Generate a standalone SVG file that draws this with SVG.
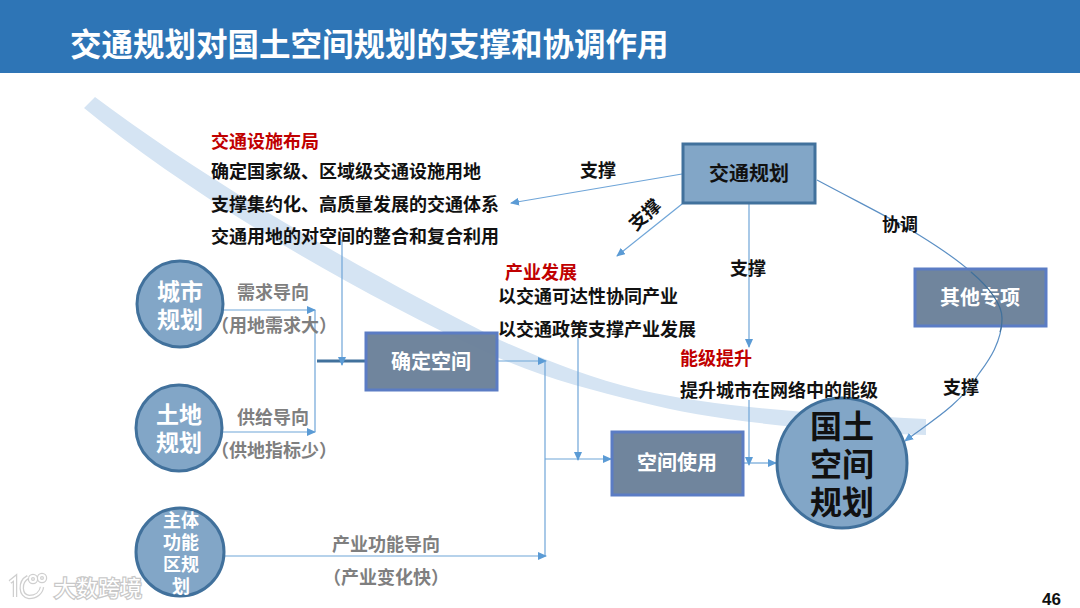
<svg xmlns="http://www.w3.org/2000/svg" width="1080" height="608" viewBox="0 0 1080 608">
<defs>
<marker id="arr" markerWidth="9" markerHeight="8" refX="8" refY="4" orient="auto" markerUnits="userSpaceOnUse"><path d="M0 0L9 4L0 8Z" fill="#5b9bd5"/></marker>
</defs>
<style>
text{font-family:"Noto Sans CJK SC","Noto Sans",sans-serif;font-weight:700}
.k{font-size:18px;fill:#111}
.r{font-size:18px;fill:#c00000}
.g{font-size:18px;fill:#7f7f7f}
.w{fill:#fff;text-anchor:middle}
.c{fill:none;stroke:#6fa5d8;stroke-width:1.2}
.a{marker-end:url(#arr)}
.ci{fill:#82a6c7;stroke:#41719c;stroke-width:3}
.b1{fill:#82a6c7;stroke:#41719c;stroke-width:3}
.b2{fill:#6a8099;fill-opacity:.96;stroke:#5b7cc4;stroke-width:3}
</style>
<rect width="1080" height="608" fill="#fff"/>
<rect id="header" width="1080" height="73" fill="#2e75b6"/>
<text x="70" y="56" font-size="31.5" fill="#fff">交通规划对国土空间规划的支撑和协调作用</text>
<path id="band" d="M95 97C205 180 360 270 500 340C550 362 590 378 640 390C720 408 820 414 926 419L926 435C800 430 710 420 640 402C590 390 540 377 490 354C350 290 190 195 84 108Z" fill="#d5e4f3"/>
<g id="connectors">
<path class="c a" d="M218 310H315"/>
<path class="c a" d="M212 432H315"/>
<path class="c" d="M315 310V432"/>
<path d="M317 361H365" fill="none" stroke="#41719c" stroke-width="3"/>
<path class="c a" d="M342 240V365"/>
<path class="c a" d="M498 361H546"/>
<path class="c" d="M545 361V556"/>
<path class="c a" d="M225 556H546"/>
<path class="c a" d="M545 459H611"/>
<path class="c a" d="M578 338V460"/>
<path class="c a" d="M744 463H776"/>
<path class="c a" d="M749 400V465"/>
<path class="c a" d="M749 204V347"/>
<path class="c a" d="M682 174L511 203"/>
<path class="c a" d="M682 204L617 256"/>
<path class="c a" d="M817 180C860 203 900 223 919 235C940 248 960 262 971 272C990 288 1002 305 1002 318C1002 345 985 365 978 375C960 405 930 422 905 441" style="stroke:#5b8fc4"/>
</g>
<g id="n-jtgh"><rect class="b1" x="683" y="144" width="132" height="59"/><text x="749" y="181" font-size="20" text-anchor="middle" fill="#111">交通规划</text></g>
<g id="n-qtzx"><rect class="b2" x="915" y="269" width="131" height="57"/><text class="w" x="980" y="305" font-size="20">其他专项</text><path d="M971 272C990 288 1002 305 1002 318C1002 322 1001.500 328 1000 332" fill="none" stroke="#41719c" stroke-width="1.200"/></g>
<g id="n-qdkj"><rect class="b2" x="366" y="333" width="131" height="57"/><text class="w" x="431" y="369" font-size="20">确定空间</text></g>
<g id="n-kjsy"><rect class="b2" x="612" y="432" width="131" height="63"/><text class="w" x="677" y="470" font-size="20">空间使用</text></g>
<g id="n-csgh"><circle class="ci" cx="180" cy="304" r="43"/><text class="w" x="180" y="300" font-size="23">城市</text><text class="w" x="180" y="328" font-size="23">规划</text></g>
<g id="n-tdgh"><circle class="ci" cx="179" cy="428" r="43"/><text class="w" x="179" y="423" font-size="23">土地</text><text class="w" x="179" y="451" font-size="23">规划</text></g>
<g id="n-ztgn"><circle class="ci" cx="180" cy="552" r="44"/><text class="w" x="181" y="527" font-size="18">主体</text><text class="w" x="181" y="549" font-size="18">功能</text><text class="w" x="181" y="571" font-size="18">区规</text><text class="w" x="181" y="593" font-size="18">划</text></g>
<g id="n-gtkj"><circle class="ci" cx="842" cy="463" r="65"/><text x="842" y="438" font-size="32" text-anchor="middle" fill="#111">国土</text><text x="842" y="476" font-size="32" text-anchor="middle" fill="#111">空间</text><text x="842" y="514" font-size="32" text-anchor="middle" fill="#111">规划</text></g>
<g id="labels">
<text class="r" x="211" y="148">交通设施布局</text>
<text class="k" x="211" y="178">确定国家级、区域级交通设施用地</text>
<text class="k" x="211" y="211">支撑集约化、高质量发展的交通体系</text>
<text class="k" x="211" y="243">交通用地的对空间的整合和复合利用</text>
<text class="r" x="505" y="279">产业发展</text>
<text class="k" x="498" y="303">以交通可达性协同产业</text>
<text class="k" x="498" y="336">以交通政策支撑产业发展</text>
<text class="r" x="680" y="365">能级提升</text>
<text class="k" x="680" y="397">提升城市在网络中的能级</text>
<text class="k" x="580" y="177">支撑</text>
<text class="k" transform="translate(645 215) rotate(-42)" text-anchor="middle" y="6">支撑</text>
<text class="k" x="730" y="275">支撑</text>
<text class="k" x="882" y="231">协调</text>
<text class="k" x="943" y="394">支撑</text>
<text class="g" x="237" y="299">需求导向</text>
<text class="g" x="211" y="332">（用地需求大）</text>
<text class="g" x="237" y="424">供给导向</text>
<text class="g" x="211" y="457">（供地指标少）</text>
<text class="g" x="332" y="551">产业功能导向</text>
<text class="g" x="323" y="584">（产业变化快）</text>
<text x="1042" y="605" font-size="17" fill="#111" style="font-family:'Liberation Sans',sans-serif">46</text>
</g>
<g id="watermark">
<g fill="none" stroke="#cfcfcf" stroke-width="4.500"><path d="M10 582L15 578V597"/><path d="M28 577C19 582 20 596 29 597C36 597 41 593 42 587"/><circle cx="33" cy="579" r="3"/><circle cx="42" cy="578" r="3"/></g>
<g fill="none" stroke="#fff" stroke-width="2"><path d="M10 582L15 578V597"/><path d="M28 577C19 582 20 596 29 597C36 597 41 593 42 587"/><circle cx="33" cy="579" r="3"/><circle cx="42" cy="578" r="3"/></g>
<text x="54" y="596" font-size="22" fill="#fff" stroke="#c8c8c8" stroke-width="2.500" style="paint-order:stroke;font-weight:400">大数跨境</text>
</g>
</svg>
